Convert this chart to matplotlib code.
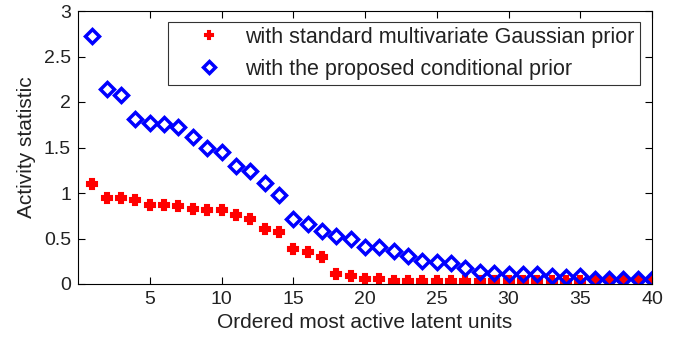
import numpy as np
from matplotlib import pyplot as plt

plt.rcParams['font.family'] = ['Liberation Sans', 'DejaVu Sans']

units = np.arange(1, 41)
standard_prior = [1.10, 0.95, 0.95, 0.92, 0.87, 0.87, 0.855, 0.82, 0.81, 0.81,
                  0.76, 0.71, 0.60, 0.57, 0.38, 0.35, 0.30, 0.11, 0.09, 0.06,
                  0.06, 0.03, 0.03, 0.03, 0.03, 0.03, 0.03, 0.03, 0.03, 0.03,
                  0.03, 0.03, 0.03, 0.03, 0.03, 0.04, 0.04, 0.04, 0.04, 0.04]
conditional_prior = [2.72, 2.14, 2.08, 1.81, 1.77, 1.76, 1.72, 1.61, 1.50, 1.45,
                     1.30, 1.24, 1.11, 0.98, 0.71, 0.66, 0.58, 0.53, 0.49, 0.41,
                     0.41, 0.36, 0.31, 0.25, 0.24, 0.23, 0.18, 0.13, 0.12, 0.11,
                     0.11, 0.11, 0.09, 0.08, 0.09, 0.06, 0.05, 0.05, 0.05, 0.05]
labels = ['with standard multivariate Gaussian prior',
          'with the proposed conditional prior']

fig = plt.figure(figsize=(6.86, 3.41), dpi=100)
ax = fig.add_axes([78/686, 1 - 284/341, (652-78)/686, (284-11)/341])

ax.plot(units, standard_prior, 'P', color='#ff0000', markersize=7.5,
        markeredgewidth=1.5, label=labels[0])
ax.plot(units, conditional_prior, 'D', color='#0000ff', markerfacecolor='none',
        markersize=7.5, markeredgewidth=2.5, label=labels[1])

ax.set_xlim(0, 40)
ax.set_ylim(0, 3)
ax.set_xticks([5, 10, 15, 20, 25, 30, 35, 40])
ax.set_yticks([0, 0.5, 1, 1.5, 2, 2.5, 3])
ax.set_yticklabels(['0', '0.5', '1', '1.5', '2', '2.5', '3'])
ax.tick_params(direction='in', top=True, right=True, labelsize=14, length=5,
               labelcolor='#222222', pad=5)
for s in ax.spines.values():
    s.set_linewidth(0.8)
ax.set_xlabel('Ordered most active latent units', fontsize=15, labelpad=4,
              color='#222222')
ax.set_ylabel('Activity statistic', fontsize=15, labelpad=6, color='#222222')

leg = ax.legend(loc='upper right', fontsize=15.5, frameon=True, fancybox=False,
                edgecolor='black', handlelength=3.3, handletextpad=0.05,
                borderpad=0.25, labelspacing=0.5, markerscale=0.75,
                borderaxespad=0, bbox_to_anchor=(0.979, 0.961))
leg.get_frame().set_linewidth(0.8)
for t in leg.get_texts():
    t.set_color('#222222')

fig.savefig('out.png', dpi=100)
